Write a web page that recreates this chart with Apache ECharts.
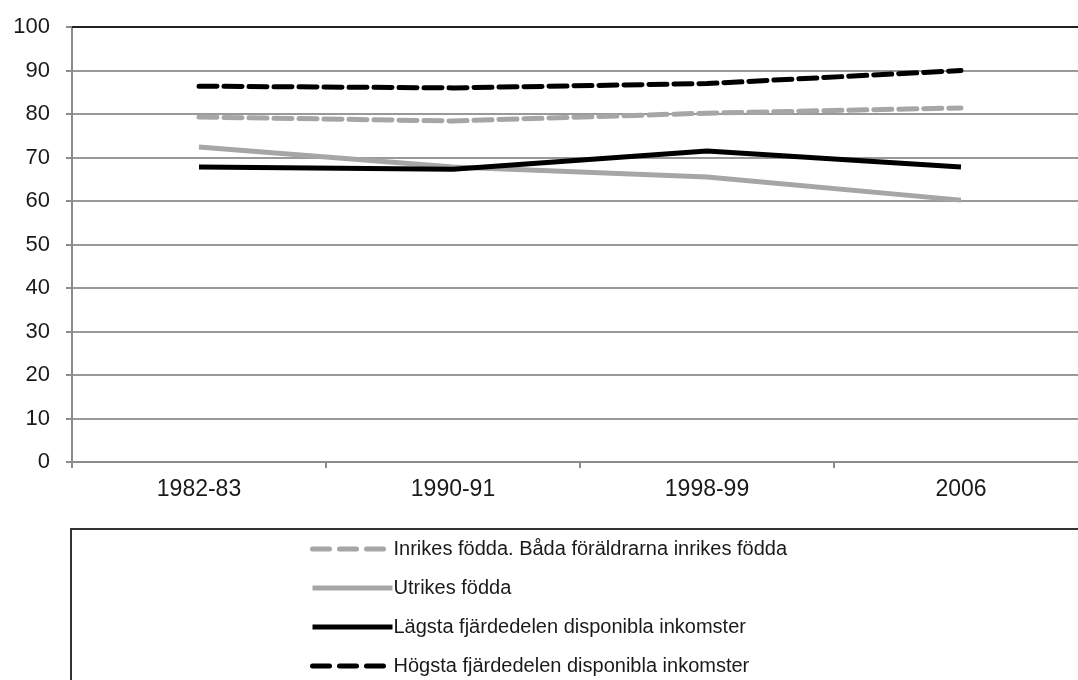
<!DOCTYPE html>
<html>
<head>
<meta charset="utf-8">
<script src="https://cdn.jsdelivr.net/npm/echarts@6/dist/echarts.min.js"></script>
<style>
  html, body { margin: 0; padding: 0; background: #fff; }
  #chart { width: 1078px; height: 680px; }
</style>
</head>
<body>
<div id="chart"></div>
<script>
  // perioder och andelar (%)
  const categories = ['1982-83', '1990-91', '1998-99', '2006']
  const inrikes = [79.3, 78.4, 80.2, 81.4]
  const utrikes = [72.4, 67.8, 65.5, 60.2]
  const lagsta = [67.8, 67.3, 71.5, 67.8]
  const hogsta = [86.4, 86.0, 87.0, 90.0]

  const names = [
    'Inrikes födda. Båda föräldrarna inrikes födda',
    'Utrikes födda',
    'Lägsta fjärdedelen disponibla inkomster',
    'Högsta fjärdedelen disponibla inkomster'
  ]

  const font = 'Liberation Sans, Arial, sans-serif'
  const gray = '#a6a6a6'
  const dash = [18, 7]

  function line (name, data, color, dashed) {
    return {
      name: name,
      type: 'line',
      data: data,
      symbol: 'none',
      lineStyle: {
        color: color,
        width: 5,
        type: dashed ? dash : 'solid',
        cap: dashed ? 'round' : 'butt'
      },
      itemStyle: { color: color }
    }
  }

  // streckade legendprover: tre streck och luft före texten
  const legendData = names.map((n, i) => {
    if (i === 0 || i === 3) {
      return { name: n, lineStyle: { type: [17, 10], cap: 'round' } }
    }
    return { name: n }
  })

  const myChart = echarts.init(document.getElementById('chart'))
  myChart.setOption({
    animation: false,
    grid: { left: 72, top: 27, width: 1016, height: 435, outerBoundsMode: 'none' },
    xAxis: [
      {
        type: 'category',
        data: categories,
        boundaryGap: true,
        axisLine: { lineStyle: { color: '#8c8c8c', width: 2 } },
        axisTick: { show: true, length: 6, lineStyle: { color: '#8c8c8c', width: 2 } },
        axisLabel: { color: '#1a1a1a', fontSize: 23, fontFamily: font, margin: 16 }
      },
      {
        type: 'category',
        position: 'top',
        data: categories,
        axisLine: { lineStyle: { color: '#222', width: 2 } },
        axisTick: { show: false },
        axisLabel: { show: false }
      }
    ],
    yAxis: {
      type: 'value',
      min: 0,
      max: 100,
      interval: 10,
      axisLine: { show: true, lineStyle: { color: '#8c8c8c', width: 2 } },
      axisTick: { show: true, length: 6, lineStyle: { color: '#8c8c8c', width: 2 } },
      axisLabel: { color: '#1a1a1a', fontSize: 22, fontFamily: font, margin: 22 },
      splitLine: { lineStyle: { color: '#999', width: 2 } }
    },
    legend: {
      orient: 'vertical',
      left: 310,
      top: 539,
      padding: 0,
      itemWidth: 80,
      itemHeight: 14,
      itemGap: 19,
      selectedMode: false,
      data: legendData,
      itemStyle: { opacity: 0 },
      lineStyle: { width: 5 },
      textStyle: { color: '#1a1a1a', fontSize: 20, fontFamily: font, padding: [0, 0, 0, -4], lineHeight: 20 }
    },
    graphic: [
      {
        type: 'rect',
        shape: { x: 71, y: 529, width: 1100, height: 300 },
        style: { fill: 'none', stroke: '#333', lineWidth: 2 },
        silent: true
      }
    ],
    series: [
      line(names[0], inrikes, gray, true),
      line(names[1], utrikes, gray, false),
      line(names[2], lagsta, '#000', false),
      line(names[3], hogsta, '#000', true)
    ]
  })
</script>
</body>
</html>
